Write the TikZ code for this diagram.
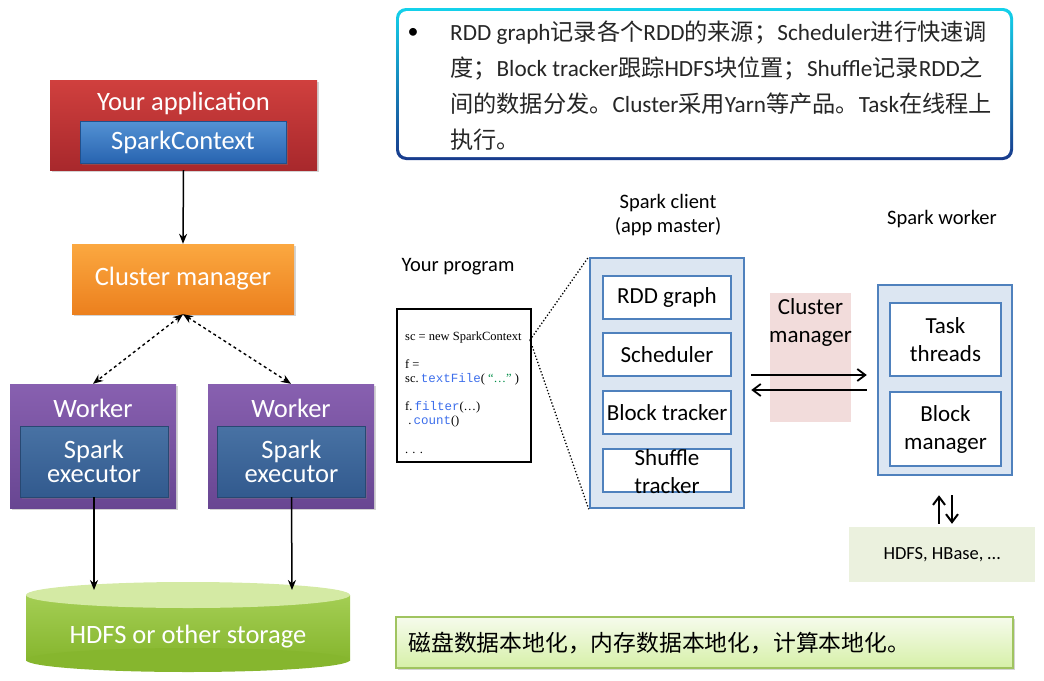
\documentclass[tikz,border=0pt]{standalone}
\usepackage{fontspec}
\setmainfont{Carlito}
\newfontfamily\cjk{Noto Sans CJK SC}
\newfontfamily\codefont{Liberation Serif}
\newfontfamily\codemono{Liberation Mono}
\usetikzlibrary{arrows, arrows.meta, calc, shadows}
\definecolor{rojoA}{RGB}{208,64,62}
\definecolor{rojoB}{RGB}{168,40,44}
\definecolor{azulA}{RGB}{84,146,212}
\definecolor{azulB}{RGB}{40,100,176}
\definecolor{naranjaA}{RGB}{251,168,64}
\definecolor{naranjaB}{RGB}{236,128,30}
\definecolor{moradoA}{RGB}{136,96,176}
\definecolor{moradoB}{RGB}{104,70,146}
\definecolor{ejecA}{RGB}{72,114,164}
\definecolor{ejecB}{RGB}{50,90,142}
\definecolor{verdeA}{RGB}{164,206,84}
\definecolor{verdeB}{RGB}{134,182,46}
\definecolor{verdeTapa}{RGB}{212,234,164}
\definecolor{cian}{RGB}{20,210,235}
\definecolor{azulOsc}{RGB}{24,58,140}
\definecolor{bordeAzul}{RGB}{79,129,189}
\definecolor{fondoAzul}{RGB}{220,230,242}
\definecolor{rosa}{RGB}{242,220,219}
\definecolor{verdeGris}{RGB}{235,241,222}
\definecolor{verdeBorde}{RGB}{160,196,96}
\definecolor{verdeClA}{RGB}{246,251,236}
\definecolor{verdeClB}{RGB}{214,240,168}
\definecolor{claveAzul}{RGB}{60,110,235}
\definecolor{claveVerde}{RGB}{0,140,70}
\newcommand{\zh}[1]{{\cjk #1}}
\newcommand{\clave}[1]{\textcolor{claveAzul}{\codemono #1}}
\tikzset{
	>={Stealth[length=10pt, width=8pt]}, % puntas de flecha rellenas
	barba/.style={-{Straight Barb[length=8pt, width=12pt]}}, % puntas abiertas
	sombra/.style={drop shadow={opacity=0.35, shadow xshift=1.5pt, shadow yshift=-1.5pt}}, % sombra suave
	grande/.style={text=white, font=\fontsize{26.5}{24}\selectfont, align=center}, % texto de la columna izquierda
	mediana/.style={font=\fontsize{23}{28}\selectfont, align=center}, % texto de las cajas azules
	etiqueta/.style={font=\fontsize{20.5}{23.5}\selectfont, align=center}, % titulos pequenos
	marco/.style={draw=bordeAzul, fill=fondoAzul, line width=2.5pt}, % caja del cliente y del worker
	interna/.style={draw=bordeAzul, fill=white, line width=1.2pt, inner sep=2pt,
		minimum width=128pt, minimum height=43pt, mediana}, % cajas internas
	trabajador/.style={sombra, top color=moradoA, bottom color=moradoB,
		minimum width=166pt, minimum height=124pt}, % caja Worker
	ejecutor/.style={sombra, top color=ejecA, bottom color=ejecB, draw=ejecB!80!black,
		minimum width=148pt, minimum height=71pt, grande} % caja Spark executor
}

\begin{document}
\begin{tikzpicture}[x=1pt, y=-1pt]
	\useasboundingbox (0,0) rectangle (1044,680);
	% columna izquierda
	\node (app) [sombra, top color=rojoA, bottom color=rojoB, minimum width=267pt, minimum height=90pt] at (183.5,125) {};
	\node (appt) [grande] at (183.5,103) {Your application};
	\node (sc) [sombra, top color=azulA, bottom color=azulB, draw=azulB!80!black,
		minimum width=206pt, minimum height=42pt, grande] at (183,142) {SparkContext};
	\node (cm) [sombra, top color=naranjaA, bottom color=naranjaB,
		minimum width=222pt, minimum height=70pt, grande] at (183,279) {Cluster manager};
	\node (w1) [trabajador] at (93,446) {};
	\node (w2) [trabajador] at (291,446) {};
	\node (w1t) [grande] at (93,408) {Worker};
	\node (w2t) [grande] at (291,408) {Worker};
	\node (ex1) [ejecutor] at (94,461.5) {Spark\\executor};
	\node (ex2) [ejecutor] at (291.5,461.5) {Spark\\executor};
	\fill[top color=verdeA, bottom color=verdeB] (26,595) rectangle (350,660);
	\fill[verdeB] (188,660) ellipse (162 and 12);
	\fill[verdeTapa] (188,595) ellipse (162 and 13);
	\node (hdfs) [grande] at (188,637) {HDFS or other storage};
	\coordinate (st1) at (94,590);
	\coordinate (st2) at (292,590);
	\draw[->, line width=1.5pt] (app.south) -- (cm.north);
	\draw[<->, dashed, line width=1.4pt] (cm.south) -- (w1.north);
	\draw[<->, dashed, line width=1.4pt] (cm.south) -- (w2.north);
	\draw[->, line width=1.5pt] (ex1) -- (st1);
	\draw[->, line width=1.5pt] (ex2.south) -- (st2);
	% nota de arriba
	\node (nota) [rounded corners=10pt, top color=cian, bottom color=azulOsc,
		minimum width=617pt, minimum height=152pt] at (704.5,84) {};
	\node (notaf) [rounded corners=8pt, fill=white, minimum width=611pt, minimum height=146pt] at (704.5,84) {};
	\node (bala) [font=\fontsize{22}{36}\selectfont] at (413,33) {•};
	\node (notat) [anchor=base west, align=left, inner sep=0pt, text=black!85,
		font=\fontsize{23.2}{36}\selectfont] at (450,148) {RDD graph\zh{记录各个}RDD\zh{的来源；}Scheduler\zh{进行快速调}\\
		\zh{度；}Block tracker\zh{跟踪}HDFS\zh{块位置；}Shuffle\zh{记录}RDD\zh{之}\\
		\zh{间的数据分发。}Cluster\zh{采用}Yarn\zh{等产品。}Task\zh{在线程上}\\
		\zh{执行。}};
	% titulos
	\node (clientet) [etiqueta] at (668,215) {Spark client\\(app master)};
	\node (trabt) [etiqueta] at (942,219) {Spark worker};
	\node (progt) [etiqueta] at (458,267) {Your program};
	% programa
	\node (prog) [draw, line width=1.5pt, minimum width=134pt, minimum height=153pt] at (464,385.5) {};
	\node (codigo) [anchor=base west, align=left, inner sep=0pt,
		font=\codefont\fontsize{12.5}{14}\selectfont] at (405,453) {sc = new SparkContext\\[14pt]
		f =\\ sc.\,\clave{textFile}( \textcolor{claveVerde}{“…”} )\\[14pt]
		f.\,\clave{filter}(…)\\ \ .\,\clave{count}()\\[15pt] . . .};
	\coordinate (fin) at (530,340);
	% cliente
	\node (cliente) [marco, minimum width=154pt, minimum height=250pt] at (667,383) {};
	\node (rdd) [interna] at (667,297.5) {RDD graph};
	\node (sched) [interna] at (667,354.5) {Scheduler};
	\node (block) [interna] at (667,412.5) {Block tracker};
	\node (shuffle) [interna] at (667,470.5) {};
	\node (shufflet) [mediana] at (667,472) {Shuffle\\tracker};
	\draw[dotted, line width=1.3pt] (fin) -- (cliente.north west);
	\draw[dotted, line width=1.3pt] (fin) -- (cliente.south west);
	% cluster manager
	\node (cmr) [fill=rosa, minimum width=81pt, minimum height=129pt] at (810.5,357.5) {};
	\node (cmrt) [mediana] at (810.5,322.5) {Cluster\\manager};
	% worker
	\node (trab) [marco, minimum width=134pt, minimum height=190pt] at (945,380) {};
	\node (task) [interna, minimum width=111pt, minimum height=73pt] at (945.5,339.5) {Task\\threads};
	\node (bman) [interna, minimum width=111pt, minimum height=74pt] at (945.5,429) {Block\\manager};
	\draw[barba, line width=1.8pt] ($(cliente.east)+(6,-8)$) -- ($(cliente.east -| trab.west)+(-10,-8)$);
	\draw[barba, line width=1.8pt] ($(trab.west |- cliente.east)+(-10,7)$) -- ($(cliente.east)+(6,7)$);
	% almacenamiento
	\node (almac) [fill=verdeGris, minimum width=186pt, minimum height=55pt,
		font=\fontsize{18.5}{20}\selectfont] at (942,554.5) {HDFS, HBase, …};
	\draw[barba, line width=2pt] ($(almac.north)+(-3,-3)$) -- ($(trab.south)+(-6,19)$);
	\draw[barba, line width=2pt] ($(trab.south)+(7,19)$) -- ($(almac.north)+(10,-3)$);
	% nota de abajo
	\node (local) [sombra, draw=verdeBorde, line width=1.5pt, top color=verdeClA, bottom color=verdeClB,
		minimum width=617pt, minimum height=51pt] at (704.5,642.5) {};
	\node (localt) [anchor=west, font=\cjk\fontsize{22.8}{26}\selectfont] at (405,643) {磁盘数据本地化，内存数据本地化，计算本地化。};
\end{tikzpicture}
\end{document}
